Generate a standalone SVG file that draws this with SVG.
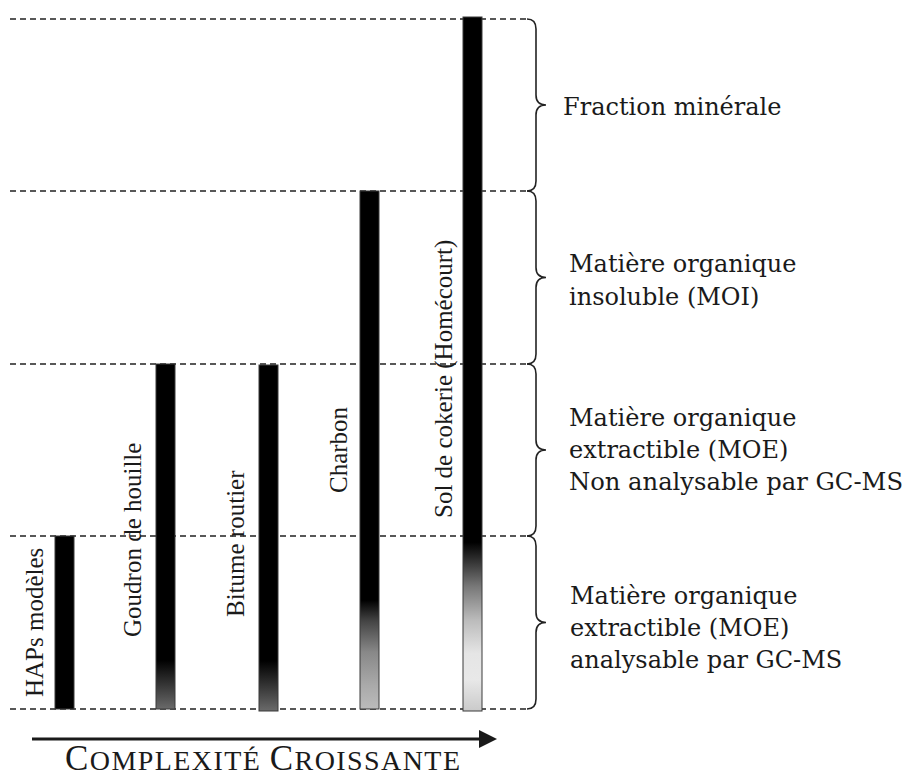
<svg xmlns="http://www.w3.org/2000/svg" width="909" height="778" viewBox="0 0 909 778">
<style>
.dash{stroke:#222;stroke-width:1.7;stroke-dasharray:6,4;fill:none}
.brace{stroke:#222;stroke-width:1.6;fill:none}
.bar{stroke:#3a3a3a;stroke-width:1}
.vl{font-family:"Liberation Serif","Times New Roman",serif;font-size:25px;fill:#1a1a1a}
.rl{font-family:"DejaVu Serif",serif;font-size:24px;fill:#1a1a1a}
.ax{font-family:"Liberation Serif","Times New Roman",serif;fill:#1a1a1a}
</style>
<defs>
<linearGradient id="gGou" x1="0" y1="0" x2="0" y2="1">
<stop offset="0" stop-color="#000"/><stop offset="0.858" stop-color="#000"/><stop offset="1" stop-color="#6a6a6a"/>
</linearGradient>
<linearGradient id="gBit" x1="0" y1="0" x2="0" y2="1">
<stop offset="0" stop-color="#000"/><stop offset="0.855" stop-color="#000"/><stop offset="1" stop-color="#6a6a6a"/>
</linearGradient>
<linearGradient id="gCha" x1="0" y1="0" x2="0" y2="1">
<stop offset="0" stop-color="#000"/><stop offset="0.79" stop-color="#000"/><stop offset="0.83" stop-color="#444"/><stop offset="0.89" stop-color="#888"/><stop offset="0.955" stop-color="#aaa"/><stop offset="1" stop-color="#bbb"/>
</linearGradient>
<linearGradient id="gSol" x1="0" y1="0" x2="0" y2="1">
<stop offset="0" stop-color="#000"/><stop offset="0.757" stop-color="#000"/><stop offset="0.82" stop-color="#777"/><stop offset="0.869" stop-color="#bbb"/><stop offset="0.917" stop-color="#e5e5e5"/><stop offset="0.955" stop-color="#e8e8e8"/><stop offset="1" stop-color="#cacaca"/>
</linearGradient>
<marker id="arr" markerWidth="6" markerHeight="6" refX="0" refY="3" orient="auto" markerUnits="strokeWidth">
<path d="M0,0 L6,3 L0,6 Z" fill="#1a1a1a"/>
</marker>
</defs>

<g id="connectors">
<line class="dash" x1="10" y1="19" x2="527" y2="19"/>
<line class="dash" x1="10" y1="191" x2="527" y2="191"/>
<line class="dash" x1="10" y1="364" x2="527" y2="364"/>
<line class="dash" x1="10" y1="536" x2="527" y2="536"/>
<line class="dash" x1="10" y1="709" x2="527" y2="709"/>
<path class="brace" d="M527,19 Q536,19 536,29 L536,95 Q536,105 546,105 Q536,105 536,115 L536,181 Q536,191 527,191"/>
<path class="brace" d="M527,191 Q536,191 536,201 L536,267.5 Q536,277.5 546,277.5 Q536,277.5 536,287.5 L536,354 Q536,364 527,364"/>
<path class="brace" d="M527,364 Q536,364 536,374 L536,440 Q536,450 546,450 Q536,450 536,460 L536,526 Q536,536 527,536"/>
<path class="brace" d="M527,536 Q536,536 536,546 L536,612.5 Q536,622.5 546,622.5 Q536,622.5 536,632.5 L536,699 Q536,709 527,709"/>
</g>

<g id="bar-haps">
<rect class="bar" x="55" y="536" width="19" height="173" fill="#000"/>
<text class="vl" transform="translate(43,697) rotate(-90)">HAPs modèles</text>
</g>
<g id="bar-goudron">
<rect class="bar" x="156" y="364" width="19" height="345" fill="url(#gGou)"/>
<text class="vl" transform="translate(141,637) rotate(-90)">Goudron de houille</text>
</g>
<g id="bar-bitume">
<rect class="bar" x="259" y="365" width="19" height="346" fill="url(#gBit)"/>
<text class="vl" transform="translate(244,617) rotate(-90)">Bitume routier</text>
</g>
<g id="bar-charbon">
<rect class="bar" x="360" y="191" width="19" height="518" fill="url(#gCha)"/>
<text class="vl" transform="translate(347,493) rotate(-90)">Charbon</text>
</g>
<g id="bar-sol">
<rect class="bar" x="463" y="17" width="19" height="694" fill="url(#gSol)"/>
<text class="vl" transform="translate(452,518) rotate(-90)">Sol de cokerie (Homécourt)</text>
</g>

<g id="label-fraction">
<text class="rl" x="563" y="115">Fraction minérale</text>
</g>
<g id="label-moi">
<text class="rl" x="569" y="272">Matière organique</text>
<text class="rl" x="569" y="305">insoluble (MOI)</text>
</g>
<g id="label-moe-non">
<text class="rl" x="569" y="426">Matière organique</text>
<text class="rl" x="569" y="458">extractible (MOE)</text>
<text class="rl" x="569" y="490" textLength="334" lengthAdjust="spacingAndGlyphs">Non analysable par GC-MS</text>
</g>
<g id="label-moe">
<text class="rl" x="570" y="604">Matière organique</text>
<text class="rl" x="570" y="636">extractible (MOE)</text>
<text class="rl" x="570" y="668">analysable par GC-MS</text>
</g>

<g id="axis">
<line x1="32" y1="739" x2="479" y2="739" stroke="#1a1a1a" stroke-width="3" marker-end="url(#arr)"/>
<text class="ax" x="65" y="770" font-size="28" textLength="395" lengthAdjust="spacing"><tspan font-size="35">C</tspan>OMPLEXITÉ <tspan font-size="35">C</tspan>ROISSANTE</text>
</g>
</svg>
